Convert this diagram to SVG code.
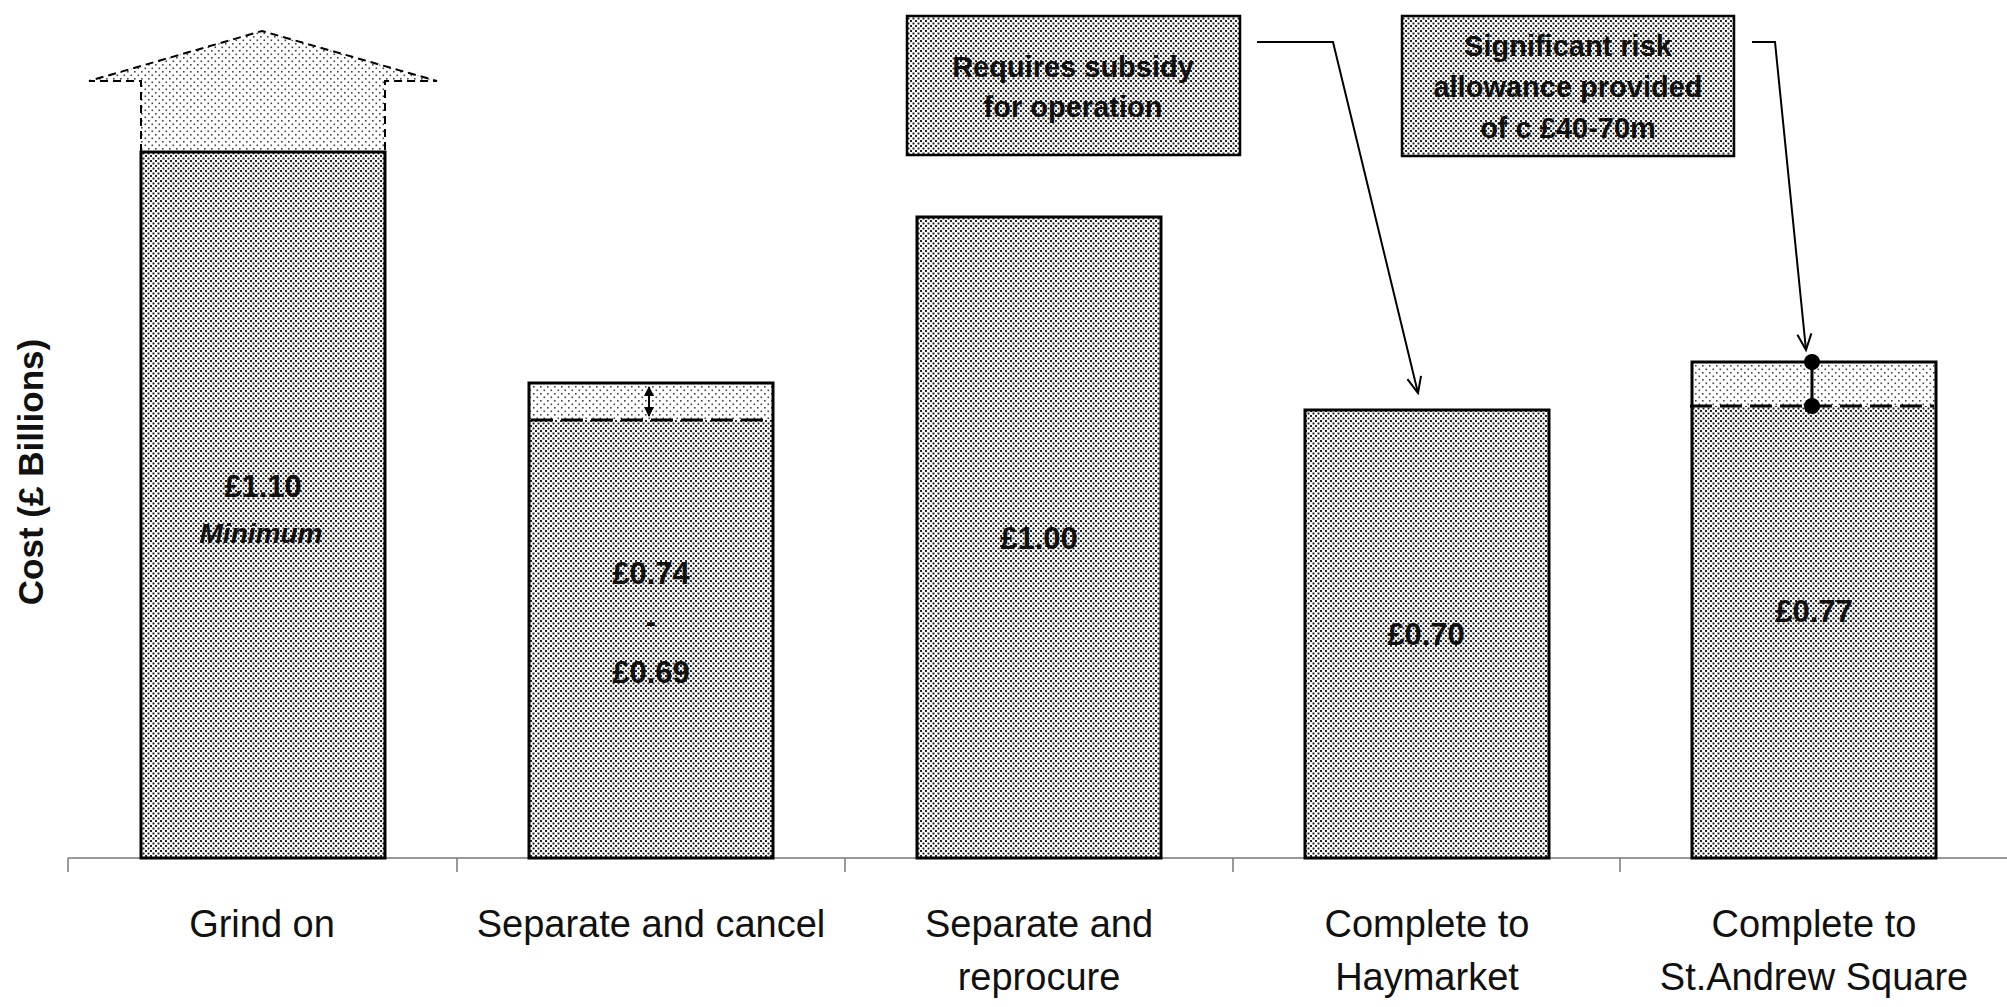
<svg xmlns="http://www.w3.org/2000/svg" width="2007" height="1007" viewBox="0 0 2007 1007">
<defs>
<pattern id="dark" width="5" height="5" patternUnits="userSpaceOnUse">
<rect width="5" height="5" fill="#ffffff"/>
<rect x="0" y="0" width="2" height="2" fill="#222"/>
<rect x="2.5" y="2.5" width="2" height="2" fill="#222"/>
</pattern>
<pattern id="light" width="7" height="7" patternUnits="userSpaceOnUse">
<rect width="7" height="7" fill="#ffffff"/>
<rect x="1" y="1" width="1.6" height="1.6" fill="#444"/>
<rect x="4.5" y="4.5" width="1.6" height="1.6" fill="#444"/>
</pattern>
<marker id="open" viewBox="0 0 20 20" refX="18" refY="10" markerWidth="20" markerHeight="20" markerUnits="userSpaceOnUse" orient="auto">
<path d="M2,3 L18,10 L2,17" fill="none" stroke="#000" stroke-width="2"/>
</marker>
<marker id="solid" viewBox="0 0 10 10" refX="9" refY="5" markerWidth="10" markerHeight="10" markerUnits="userSpaceOnUse" orient="auto-start-reverse">
<path d="M0,0 L10,5 L0,10 Z" fill="#000"/>
</marker>
</defs>
<style>
.bar{stroke:#000;stroke-width:3}
.val{font-family:"Liberation Sans",Arial,sans-serif;font-weight:bold;font-size:31px;text-anchor:middle;fill:#111}
.cat{font-family:"Liberation Sans",Arial,sans-serif;font-size:38px;text-anchor:middle;fill:#111}
.box{fill:url(#dark);stroke:#000;stroke-width:2.5}
.btxt{font-family:"Liberation Sans",Arial,sans-serif;font-weight:bold;font-size:29px;text-anchor:middle;fill:#111}
.dash{stroke:#000;stroke-width:3;stroke-dasharray:22 8;fill:none}
.axis{stroke:#777;stroke-width:1.5;fill:none}
.lead{stroke:#000;stroke-width:2;fill:none}
</style>
<rect width="2007" height="1007" fill="#fff"/>

<g id="axis">
<line class="axis" x1="68" y1="858" x2="2007" y2="858"/>
<line class="axis" x1="68" y1="858" x2="68" y2="872"/>
<line class="axis" x1="457" y1="858" x2="457" y2="872"/>
<line class="axis" x1="845" y1="858" x2="845" y2="872"/>
<line class="axis" x1="1233" y1="858" x2="1233" y2="872"/>
<line class="axis" x1="1620" y1="858" x2="1620" y2="872"/>
<text transform="translate(43,472) rotate(-90)" style="font-family:'Liberation Sans',Arial,sans-serif;font-weight:bold;font-size:35px;text-anchor:middle;fill:#111">Cost (£ Billions)</text>
</g>

<g id="grind-on">
<path d="M141,152 L141,81 L89,81 L262,31 L437,81 L385,81 L385,152" fill="url(#light)" stroke="#000" stroke-width="2" stroke-dasharray="8 5"/>
<rect class="bar" x="141" y="152" width="244" height="706" fill="url(#dark)"/>
<text class="val" x="263" y="497">£1.10</text>
<text class="val" x="261" y="543" style="font-style:italic;font-size:28px">Minimum</text>
<text class="cat" x="262" y="937">Grind on</text>
</g>

<g id="separate-cancel">
<rect x="529" y="383" width="244" height="37" fill="url(#light)"/>
<rect x="529" y="420" width="244" height="438" fill="url(#dark)"/>
<rect class="bar" x="529" y="383" width="244" height="475" fill="none"/>
<line class="dash" x1="531" y1="420" x2="771" y2="420"/>
<line x1="649" y1="387" x2="649" y2="416" stroke="#000" stroke-width="2" marker-start="url(#solid)" marker-end="url(#solid)"/>
<text class="val" x="651" y="584">£0.74</text>
<text class="val" x="651" y="632">-</text>
<text class="val" x="651" y="683">£0.69</text>
<text class="cat" x="651" y="937">Separate and cancel</text>
</g>

<g id="separate-reprocure">
<rect class="bar" x="917" y="217" width="244" height="641" fill="url(#dark)"/>
<text class="val" x="1039" y="549">£1.00</text>
<text class="cat" x="1039" y="937">Separate and</text>
<text class="cat" x="1039" y="990">reprocure</text>
</g>

<g id="complete-haymarket">
<rect class="bar" x="1305" y="410" width="244" height="448" fill="url(#dark)"/>
<text class="val" x="1426" y="645">£0.70</text>
<text class="cat" x="1427" y="937">Complete to</text>
<text class="cat" x="1427" y="990">Haymarket</text>
</g>

<g id="complete-standrew">
<rect x="1692" y="362" width="244" height="44" fill="url(#light)"/>
<rect x="1692" y="406" width="244" height="452" fill="url(#dark)"/>
<rect class="bar" x="1692" y="362" width="244" height="496" fill="none"/>
<line class="dash" x1="1690" y1="406" x2="1934" y2="406"/>
<line x1="1812" y1="362" x2="1812" y2="406" stroke="#000" stroke-width="3"/>
<circle cx="1812" cy="362" r="8" fill="#000"/>
<circle cx="1812" cy="406" r="8" fill="#000"/>
<text class="val" x="1814" y="622">£0.77</text>
<text class="cat" x="1814" y="937">Complete to</text>
<text class="cat" x="1814" y="990">St.Andrew Square</text>
</g>

<g id="note-subsidy">
<rect class="box" x="907" y="16" width="333" height="139"/>
<text class="btxt" x="1073" y="77">Requires subsidy</text>
<text class="btxt" x="1073" y="117">for operation</text>
</g>

<g id="note-risk">
<rect class="box" x="1402" y="16" width="332" height="140"/>
<text class="btxt" x="1568" y="56">Significant risk</text>
<text class="btxt" x="1568" y="97">allowance provided</text>
<text class="btxt" x="1568" y="138">of c £40-70m</text>
</g>

<g id="connectors">
<polyline class="lead" points="1257,42 1333,42 1418,393" marker-end="url(#open)"/>
<polyline class="lead" points="1752,42 1775,42 1806,350" marker-end="url(#open)"/>
</g>
</svg>
